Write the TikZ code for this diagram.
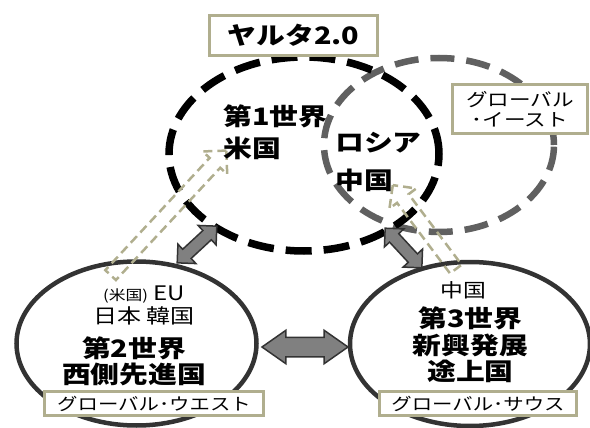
\documentclass[tikz,border=0pt]{standalone}
\usepackage{fontspec}
\setmainfont[FakeStretch=1.2]{Noto Sans CJK JP}
\usetikzlibrary{shapes.geometric}
\usetikzlibrary{shapes.arrows}
\definecolor{mkhaki}{RGB}{176,174,142}
\definecolor{mgray}{RGB}{96,96,96}
\definecolor{mdark}{RGB}{51,51,51}
\tikzset{
  worldring/.style={ellipse, inner sep=0pt},
  tagbox/.style={draw=mkhaki, line width=3pt, fill=white, inner sep=0pt, align=center},
  fatarrow/.style={double arrow, draw=mdark, fill=gray, line width=1.5pt,
    inner xsep=0pt, inner ysep=5.5pt, double arrow head extend=7pt},
  hintarrow/.style={single arrow, draw=mkhaki, line width=2.5pt, dash pattern=on 9pt off 5pt,
    inner xsep=0pt, inner ysep=6pt, single arrow head extend=9.5pt}
}

\begin{document}
\begin{tikzpicture}[x=1pt, y=-1pt]
      \useasboundingbox (0,0) rectangle (590,428);
      % the four worlds
      \node [worldring, draw=mgray, line width=6.5pt, dash pattern=on 24pt off 12pt,
        minimum width=230pt, minimum height=174pt] (ringeast) at (439,145) {};
      \node [worldring, draw=black, line width=7.5pt, dash pattern=on 26pt off 12pt,
        minimum width=270pt, minimum height=194pt] (ringone) at (304,154) {};
      \node [worldring, draw=mdark, line width=4.5pt,
        minimum width=240pt, minimum height=164pt] (ringwest) at (136.5,343.5) {};
      \node [worldring, draw=mdark, line width=4.5pt,
        minimum width=240pt, minimum height=164pt] (ringsouth) at (470,344) {};

      \node [hintarrow, minimum height=170pt, rotate=47.1] (usarrow) at (166,215.5) {};
      \node [hintarrow, minimum height=105pt, rotate=126.9] (cnarrow) at (426.5,230) {};

      \node [fatarrow, minimum height=54pt, rotate=42.8] (onewest) at (197,244.5) {};
      \node [fatarrow, minimum height=54pt, rotate=-47.2] (onesouth) at (403.5,248) {};
      \node [fatarrow, minimum height=86pt, inner ysep=9pt, double arrow tip angle=70]
        (westsouth) at (305,347) {};

      \node [tagbox, font=\bfseries\fontsize{24}{24}\selectfont,
        minimum width=168pt, minimum height=40pt] (yalta) at (293.5,35.5) {ヤルタ2.0};
      \node [tagbox, font=\fontsize{18}{20}\selectfont,
        minimum width=135pt, minimum height=49pt] (easttag) at (520,109) {グローバル\\･イースト};
      \node [tagbox, font=\fontsize{17}{17}\selectfont,
        minimum width=219pt, minimum height=24pt] (westtag) at (154,403.5) {グローバル･ウエスト};
      \node [tagbox, font=\fontsize{17}{17}\selectfont,
        minimum width=197pt, minimum height=24pt] (southtag) at (478,403.5) {グローバル･サウス};

      \node [anchor=west, align=left, inner sep=0pt, font=\bfseries\fontsize{24}{32}\selectfont]
        (usa) at (223,132) {第1世界\\米国};
      \node [anchor=west, align=left, inner sep=0pt, font=\bfseries\fontsize{24}{38}\selectfont]
        (ruscn) at (335,161.5) {ロシア\\中国};
      \node [align=center, font=\fontsize{20}{23}\selectfont]
        (members) at (144,305) {{\fontsize{14}{14}\selectfont(米国)} EU\\日本 韓国};
      \node [align=center, font=\bfseries\fontsize{24}{26}\selectfont]
        (second) at (134,361) {第2世界\\西側先進国};
      \node [font=\fontsize{19}{19}\selectfont] (cn) at (463.5,290) {中国};
      \node [align=center, font=\bfseries\fontsize{24}{26.5}\selectfont]
        (third) at (470.5,345) {第3世界\\新興発展\\途上国};
    \end{tikzpicture}
\end{document}
